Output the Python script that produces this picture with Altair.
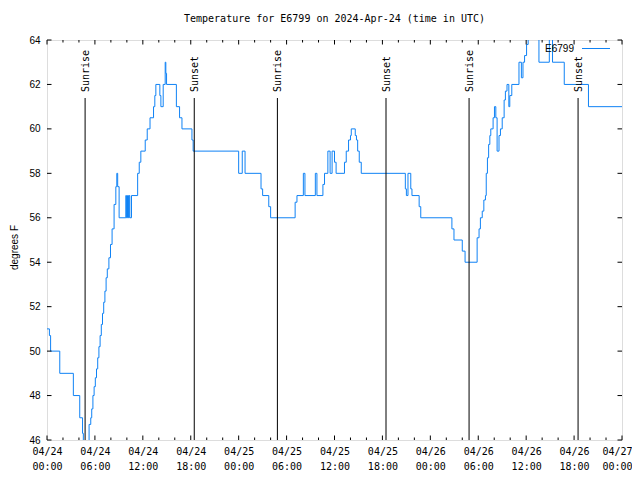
import json
import altair as alt
import pandas as pd

# Hours since 2024-04-24 00:00 UTC and temperature (degrees F), step changes
hours = [0.0, 0.3, 0.45, 1.6, 3.3, 4.1, 4.45, 4.55, 5.27, 5.48, 5.6, 5.75, 5.9, 6.05,
         6.2, 6.35, 6.5, 6.65, 6.8, 6.95, 7.1, 7.25, 7.4, 7.55, 7.75, 7.95, 8.15, 8.4,
         8.62, 8.74, 8.85, 9.03, 9.87, 9.95, 10.08, 10.2, 10.29, 10.37, 10.58, 11.35,
         11.55, 11.75, 12.3, 12.55, 12.9, 13.34, 13.5, 13.63, 14.13, 14.26, 14.55,
         14.8, 14.88, 14.97, 16.2, 16.6, 16.9, 18.15, 18.3,
         24.0, 24.45, 24.8, 26.8, 27.0, 27.77, 28.0, 31.07, 31.3, 32.1, 32.3, 33.6,
         33.8, 34.55, 34.75, 35.17, 35.45, 35.7, 36.0, 36.2, 37.25, 37.47, 37.76,
         38.0, 38.1, 38.6, 38.75, 38.9, 39.1, 39.35,
         44.87, 45.0, 45.2, 45.55, 45.7, 46.6, 46.8, 50.7, 50.96, 52.0, 52.35,
         53.86, 54.1, 54.27, 54.5, 54.7, 54.9, 55.0, 55.15, 55.3, 55.45, 55.57,
         55.86, 56.03, 56.2, 56.36, 56.6, 56.78, 57.0, 57.24, 57.4, 57.6, 57.83,
         57.95, 58.2, 59.1, 59.4, 59.6, 59.8, 60.05, 60.25, 61.6, 62.9, 63.3,
         64.77, 67.8, 72.0]
temps = [51, 50.7, 50, 49, 48, 47, 46.3, 45, 46.7, 47, 47.4, 48, 48.4, 48.8,
         49.2, 49.7, 50.2, 50.7, 51.2, 51.7, 52.2, 52.7, 53.3, 53.7, 54.2, 54.8, 55.5, 56.6,
         57.4, 58, 57.4, 56, 57, 56, 57, 56, 57, 56, 57, 58,
         58.5, 59, 59.5, 60, 60.5, 61, 61.5, 62, 61.5, 61, 62,
         63, 62.5, 62, 61, 60.5, 60, 59.5, 59,
         58, 59, 58, 57.3, 57, 56.5, 56, 56.7, 57, 58, 57, 58,
         57, 57.5, 58, 59, 58, 59, 58.5, 58, 58.5, 59, 59.5,
         59.7, 60, 59.7, 59.5, 59, 58.5, 58,
         57.3, 57, 58, 57.3, 57, 56.5, 56, 55.5, 55, 54.5, 54,
         55.1, 55.5, 56, 56.3, 56.8, 57, 58, 58.7, 59.3, 59.7, 60,
         60.5, 61, 60.5, 59, 59.7, 60, 60.5, 61.3, 61.7, 62, 61,
         61.5, 62, 63, 62.3, 63, 63.3, 63.8, 65, 63, 65, 63,
         62, 61, 61]

sun_hours = [4.77, 18.44, 28.85, 42.45, 52.85, 66.5]
sun_labels = ["Sunrise", "Sunset", "Sunrise", "Sunset", "Sunrise", "Sunset"]

x_tick_hours = [0, 6, 12, 18, 24, 30, 36, 42, 48, 54, 60, 66, 72]
x_tick_days = ["04/24", "04/24", "04/24", "04/24", "04/25", "04/25", "04/25",
               "04/25", "04/26", "04/26", "04/26", "04/26", "04/27"]
x_tick_times = ["00:00", "06:00", "12:00", "18:00", "00:00", "06:00", "12:00",
                "18:00", "00:00", "06:00", "12:00", "18:00", "00:00"]
x_minor_hours = [h for h in range(0, 73, 2) if h % 6 != 0]
y_ticks = [46, 48, 50, 52, 54, 56, 58, 60, 62, 64]

series_name = "E6799"
title_text = "Temperature for E6799 on 2024-Apr-24 (time in UTC)"

W, H = 575, 400
BLUE = "#0f82f5"
MONO = "DejaVu Sans Mono"
SANS = "Liberation Sans"

df = pd.DataFrame({"hour": hours, "temp": temps})
sun = pd.DataFrame({"hour": sun_hours, "label": sun_labels})
xmaj = pd.DataFrame({"hour": x_tick_hours})
xmin = pd.DataFrame({"hour": x_minor_hours})
yt = pd.DataFrame({"temp": y_ticks})

xscale = alt.Scale(domain=[0, 72], nice=False, zero=False)
yscale = alt.Scale(domain=[46, 64], nice=False, zero=False)

label_pairs = [[d, t] for d, t in zip(x_tick_days, x_tick_times)]
label_expr = json.dumps(label_pairs) + "[round(datum.value / 6)]"

xaxis = alt.Axis(values=x_tick_hours, labelExpr=label_expr, title=None, ticks=False,
                 domain=False, grid=False, labelFont=MONO, labelFontSize=10,
                 labelColor="black", labelLineHeight=15, labelPadding=6,
                 labelFlush=False, labelOverlap=False, labelBound=False,
                 labelOffset={"condition": {"test": "datum.value >= 72", "value": -5}, "value": 0})
yaxis = alt.Axis(values=y_ticks, title="degrees F", ticks=False,
                 domain=False, grid=False, labelFont=SANS, labelFontSize=10,
                 labelColor="black", labelPadding=7, titleFont=SANS,
                 titleFontSize=10, titleFontWeight="normal", titleColor="black",
                 titleX=-33, titleY=207, titleAngle=270, titleBaseline="middle",
                 titleAlign="center")

X = alt.X("hour:Q", scale=xscale, axis=xaxis)
Y = alt.Y("temp:Q", scale=yscale, axis=yaxis)

line = alt.Chart(df).mark_line(interpolate="step-after", color=BLUE, strokeWidth=1,
                               clip=True).encode(x=X, y=Y)

sun_rule = alt.Chart(sun).mark_rule(color="black", strokeWidth=1).encode(
    x=X, y=alt.value(58), y2=alt.value(H))
sun_text = alt.Chart(sun).mark_text(angle=270, align="left", baseline="middle", font=MONO,
                                    fontSize=10, color="black", dy=1).encode(
    x=X, y=alt.value(52), text="label:N")


def xticks(data, y0, y1):
    return alt.Chart(data).mark_rule(color="black", strokeWidth=1).encode(
        x=X, y=alt.value(y0), y2=alt.value(y1))


def yticks(x0, x1):
    return alt.Chart(yt).mark_rule(color="black", strokeWidth=1).encode(
        y=Y, x=alt.value(x0), x2=alt.value(x1))


legend_df = pd.DataFrame({"name": [series_name]})
legend_text = alt.Chart(legend_df).mark_text(
    align="right", baseline="middle", font=SANS, fontSize=10, color="black").encode(
    x=alt.value(527), y=alt.value(8.5), text="name:N")
legend_line = alt.Chart(legend_df).mark_rule(color=BLUE, strokeWidth=1).encode(
    x=alt.value(535), x2=alt.value(563), y=alt.value(8.5))

chart = alt.layer(
    line, sun_rule, sun_text,
    xticks(xmaj, H, H - 4.5), xticks(xmaj, 0, 4.5),
    xticks(xmin, H, H - 2.5), xticks(xmin, 0, 2.5),
    yticks(0, 4.5), yticks(W, W - 4.5),
    legend_text, legend_line,
).properties(
    width=W, height=H,
    title=alt.TitleParams(title_text, font=MONO, fontSize=10, fontWeight="normal",
                          color="black", anchor="middle", offset=11),
    autosize=alt.AutoSizeParams(type="none"),
    padding={"left": 39, "top": 32, "right": 10, "bottom": 32},
).configure_view(stroke="black", strokeWidth=1).configure(background="white")

chart.save("out.html", embed_options={"renderer": "svg", "actions": False})
